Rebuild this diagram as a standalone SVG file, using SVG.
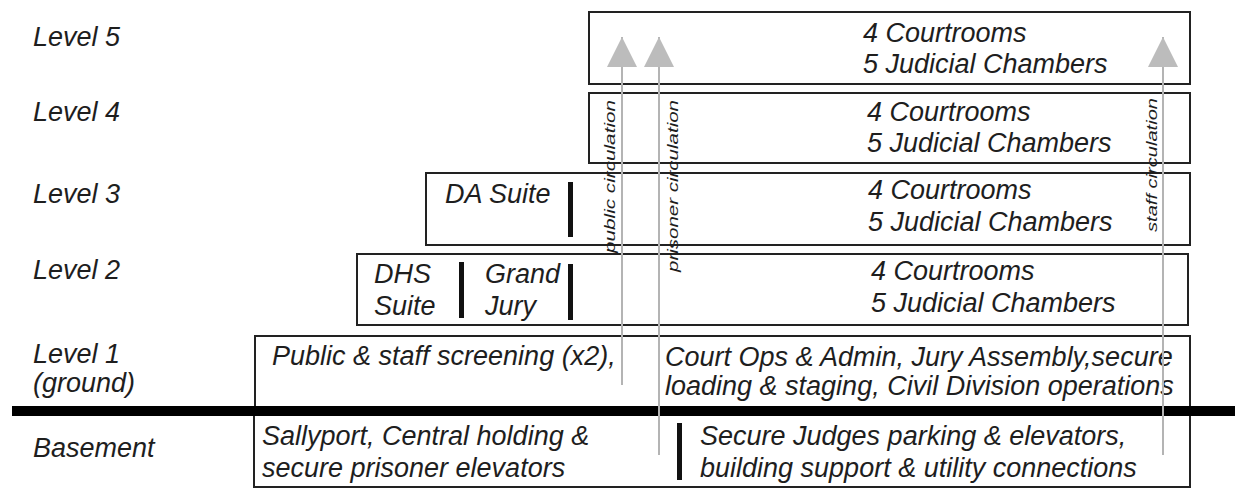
<svg xmlns="http://www.w3.org/2000/svg" width="1235" height="489" viewBox="0 0 1235 489">
<style>
text{font-family:"Liberation Sans",Arial,sans-serif;font-style:italic;fill:#1e1e1e;font-size:27px}
.box{fill:#fff;stroke:#222;stroke-width:2}
.bar{fill:#111}
.circ{stroke:#b4b4b4;stroke-width:2;fill:none}
.vt{font-size:14px}
</style>
<defs>
<marker id="ah" markerUnits="userSpaceOnUse" markerWidth="32" markerHeight="32" viewBox="0 0 32 32" refX="30" refY="16" orient="auto">
<path d="M0,1 L30,16 L0,31 Z" fill="#bcbcbc"/>
</marker>
</defs>
<rect width="1235" height="489" fill="#fff"/>
<g id="labels">
<text x="33" y="46">Level 5</text>
<text x="33" y="121">Level 4</text>
<text x="33" y="203">Level 3</text>
<text x="33" y="279">Level 2</text>
<text x="33" y="363">Level 1</text>
<text x="33" y="392">(ground)</text>
<text x="33" y="457">Basement</text>
</g>
<g id="level5">
<rect class="box" x="589" y="12" width="601" height="72"/>
<text x="863" y="42">4 Courtrooms</text>
<text x="863" y="73">5 Judicial Chambers</text>
</g>
<g id="level4">
<rect class="box" x="589" y="93" width="601" height="70"/>
<text x="867" y="121">4 Courtrooms</text>
<text x="867" y="152">5 Judicial Chambers</text>
</g>
<g id="level3">
<rect class="box" x="426" y="173" width="764" height="72"/>
<text x="445" y="203">DA Suite</text>
<rect class="bar" x="568" y="182" width="5" height="55"/>
<text x="868" y="199">4 Courtrooms</text>
<text x="868" y="231">5 Judicial Chambers</text>
</g>
<g id="level2">
<rect class="box" x="357" y="254" width="831" height="71"/>
<text x="374" y="283">DHS</text>
<text x="374" y="315">Suite</text>
<rect class="bar" x="459" y="262" width="5" height="56"/>
<text x="485" y="283">Grand</text>
<text x="485" y="315">Jury</text>
<rect class="bar" x="568" y="264" width="5" height="56"/>
<text x="871" y="280">4 Courtrooms</text>
<text x="871" y="312">5 Judicial Chambers</text>
</g>
<g id="level1">
<rect class="box" x="255" y="336" width="935" height="75"/>
<text x="272" y="365">Public &amp; staff screening (x2),</text>
<text x="665" y="366">Court Ops &amp; Admin, Jury Assembly,secure</text>
<text x="665" y="395">loading &amp; staging, Civil Division operations</text>
</g>
<g id="basement">
<rect class="box" x="254" y="411" width="936" height="76"/>
<text x="262" y="445">Sallyport, Central holding &amp;</text>
<text x="262" y="477">secure prisoner elevators</text>
<rect class="bar" x="677" y="423" width="5" height="57"/>
<text x="700" y="445">Secure Judges parking &amp; elevators,</text>
<text x="700" y="477">building support &amp; utility connections</text>
</g>
<g id="ground-line">
<line x1="12" y1="411" x2="1235" y2="411" stroke="#000" stroke-width="10"/>
</g>
<g id="connectors">
<line class="circ" x1="622" y1="385" x2="622" y2="37" marker-end="url(#ah)"/>
<line class="circ" x1="659" y1="455" x2="659" y2="37" marker-end="url(#ah)"/>
<line class="circ" x1="1163" y1="455" x2="1163" y2="37" marker-end="url(#ah)"/>
<text class="vt" transform="translate(615,253) rotate(-90)" textLength="153" lengthAdjust="spacingAndGlyphs">public circulation</text>
<text class="vt" transform="translate(678,272) rotate(-90)" textLength="172" lengthAdjust="spacingAndGlyphs">prisoner circulation</text>
<text class="vt" transform="translate(1157,232) rotate(-90)" textLength="134" lengthAdjust="spacingAndGlyphs">staff circulation</text>
</g>
</svg>
